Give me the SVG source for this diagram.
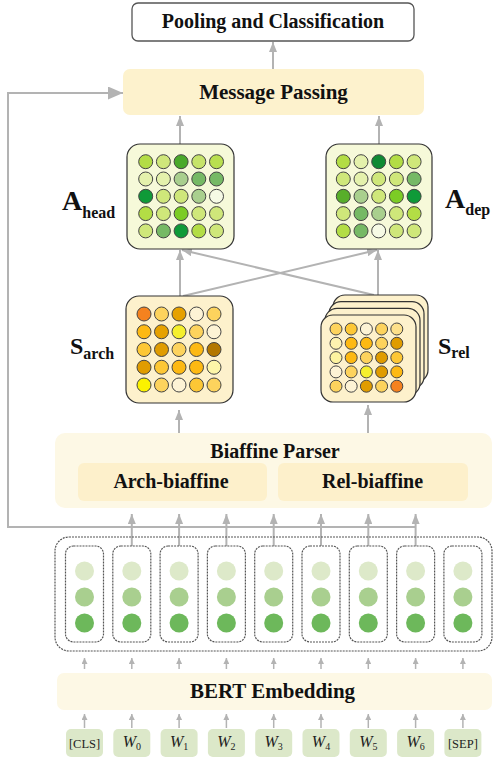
<svg xmlns="http://www.w3.org/2000/svg" width="493" height="760" viewBox="0 0 493 760">
<defs>
<style>
.lbl{font-family:"Liberation Serif","Times New Roman",serif;font-weight:bold;fill:#111;text-anchor:middle}
.tok{font-family:"Liberation Serif","Times New Roman",serif;fill:#222;text-anchor:middle}
.conn{stroke:#b3b3b3;stroke-width:2;fill:none}
.thin{stroke:#b3b3b3;stroke-width:1.5;fill:none}
.mat circle{stroke:#444;stroke-width:1}
.col circle{stroke:none}
.matA{fill:#f6f9d9;stroke:#333;stroke-width:1.2}
.matS{fill:#fdf1cc;stroke:#333;stroke-width:1.2}
.dash{fill:none;stroke:#555;stroke-width:1.2;stroke-dasharray:2 1}
.tk{fill:#dce8c9}
</style>
<marker id="ah" markerUnits="userSpaceOnUse" markerWidth="10" markerHeight="8" refX="10" refY="4" orient="auto"><path d="M0,0 L10,4 L0,8 z" fill="#b3b3b3"/></marker>
<marker id="ahBig" markerUnits="userSpaceOnUse" markerWidth="15" markerHeight="13" refX="15" refY="6.5" orient="auto"><path d="M0,0 L15,6.5 L0,13 z" fill="#b3b3b3"/></marker>
<marker id="ahS" markerUnits="userSpaceOnUse" markerWidth="6" markerHeight="6" refX="6" refY="3" orient="auto"><path d="M0,0 L6,3 L0,6 z" fill="#b3b3b3"/></marker>
</defs>
<rect width="493" height="760" fill="#fff"/>

<g id="connectors">
<path class="conn" d="M273,69 L273,42" marker-end="url(#ah)"/>
<path class="conn" d="M180,144 L180,116" marker-end="url(#ah)"/>
<path class="conn" d="M379,144 L379,116" marker-end="url(#ah)"/>
<path class="conn" d="M180,296 L180,250" marker-end="url(#ah)"/>
<path class="conn" d="M183,296 L377,250" marker-end="url(#ah)"/>
<path class="conn" d="M378,295 L378,250" marker-end="url(#ah)"/>
<path class="conn" d="M374,295 L182,250" marker-end="url(#ah)"/>
<path class="conn" d="M179,458 L179,410" marker-end="url(#ah)"/>
<path class="conn" d="M368,458 L368,405" marker-end="url(#ah)"/>
<path class="conn" d="M415.6,527 L8,527 L8,93 L123,93" marker-end="url(#ahBig)"/>
<path class="conn" d="M131.8,546 L131.8,514" marker-end="url(#ah)"/>
<path class="conn" d="M179.1,546 L179.1,514" marker-end="url(#ah)"/>
<path class="conn" d="M226.4,546 L226.4,514" marker-end="url(#ah)"/>
<path class="conn" d="M273.7,546 L273.7,514" marker-end="url(#ah)"/>
<path class="conn" d="M321,546 L321,514" marker-end="url(#ah)"/>
<path class="conn" d="M368.3,546 L368.3,514" marker-end="url(#ah)"/>
<path class="conn" d="M415.6,546 L415.6,514" marker-end="url(#ah)"/>
<g class="thin">
<path d="M84.5,669 L84.5,658" marker-end="url(#ahS)"/>
<path d="M131.8,669 L131.8,658" marker-end="url(#ahS)"/>
<path d="M179.1,669 L179.1,658" marker-end="url(#ahS)"/>
<path d="M226.4,669 L226.4,658" marker-end="url(#ahS)"/>
<path d="M273.7,669 L273.7,658" marker-end="url(#ahS)"/>
<path d="M321,669 L321,658" marker-end="url(#ahS)"/>
<path d="M368.3,669 L368.3,658" marker-end="url(#ahS)"/>
<path d="M415.6,669 L415.6,658" marker-end="url(#ahS)"/>
<path d="M462.9,669 L462.9,658" marker-end="url(#ahS)"/>
<path d="M84.5,728 L84.5,714" marker-end="url(#ahS)"/>
<path d="M131.8,728 L131.8,714" marker-end="url(#ahS)"/>
<path d="M179.1,728 L179.1,714" marker-end="url(#ahS)"/>
<path d="M226.4,728 L226.4,714" marker-end="url(#ahS)"/>
<path d="M273.7,728 L273.7,714" marker-end="url(#ahS)"/>
<path d="M321,728 L321,714" marker-end="url(#ahS)"/>
<path d="M368.3,728 L368.3,714" marker-end="url(#ahS)"/>
<path d="M415.6,728 L415.6,714" marker-end="url(#ahS)"/>
<path d="M462.9,728 L462.9,714" marker-end="url(#ahS)"/>
</g>
</g>

<g id="pooling">
<rect x="132" y="3" width="282" height="38" rx="6" fill="#fff" stroke="#555" stroke-width="1.3"/>
<text class="lbl" x="273" y="28" font-size="20">Pooling and Classification</text>
</g>

<g id="message-passing">
<rect x="123" y="69" width="301" height="46" rx="7" fill="#fdf2cd"/>
<text class="lbl" x="273.5" y="99" font-size="21">Message Passing</text>
</g>

<g id="a-head">
<rect class="matA" x="127" y="144" width="107" height="105" rx="13"/>
<g class="mat">
<circle cx="145.7" cy="161.7" r="7" fill="#b3dd45"/><circle cx="163.4" cy="161.7" r="7" fill="#cfe77a"/><circle cx="181.1" cy="161.7" r="7" fill="#4aa92a"/><circle cx="198.8" cy="161.7" r="7" fill="#c6e46a"/><circle cx="216.5" cy="161.7" r="7" fill="#b9df50"/>
<circle cx="145.7" cy="179" r="7" fill="#e4f1ac"/><circle cx="163.4" cy="179" r="7" fill="#e4f1ac"/><circle cx="181.1" cy="179" r="7" fill="#a9cf8e"/><circle cx="198.8" cy="179" r="7" fill="#76b965"/><circle cx="216.5" cy="179" r="7" fill="#76b965"/>
<circle cx="145.7" cy="196.3" r="7" fill="#0f9a38"/><circle cx="163.4" cy="196.3" r="7" fill="#cfe77a"/><circle cx="181.1" cy="196.3" r="7" fill="#cfe77a"/><circle cx="198.8" cy="196.3" r="7" fill="#a9cf8e"/><circle cx="216.5" cy="196.3" r="7" fill="#f6fae5"/>
<circle cx="145.7" cy="213.6" r="7" fill="#b3dd45"/><circle cx="163.4" cy="213.6" r="7" fill="#cfe77a"/><circle cx="181.1" cy="213.6" r="7" fill="#7ccc25"/><circle cx="198.8" cy="213.6" r="7" fill="#cfe77a"/><circle cx="216.5" cy="213.6" r="7" fill="#cfe77a"/>
<circle cx="145.7" cy="230.9" r="7" fill="#cfe77a"/><circle cx="163.4" cy="230.9" r="7" fill="#76b965"/><circle cx="181.1" cy="230.9" r="7" fill="#0f9a38"/><circle cx="198.8" cy="230.9" r="7" fill="#b3dd45"/><circle cx="216.5" cy="230.9" r="7" fill="#cfe77a"/>
</g>
<text class="lbl" x="62" y="210" font-size="28" style="text-anchor:start">A<tspan font-size="16" dy="8">head</tspan></text>
</g>

<g id="a-dep">
<rect class="matA" x="326" y="144" width="106" height="105" rx="13"/>
<g class="mat">
<circle cx="343.3" cy="161.7" r="7" fill="#b3dd45"/><circle cx="361" cy="161.7" r="7" fill="#e4f1ac"/><circle cx="378.7" cy="161.7" r="7" fill="#0f8a34"/><circle cx="396.4" cy="161.7" r="7" fill="#b3dd45"/><circle cx="414.1" cy="161.7" r="7" fill="#cfe77a"/>
<circle cx="343.3" cy="179" r="7" fill="#cfe77a"/><circle cx="361" cy="179" r="7" fill="#e4f1ac"/><circle cx="378.7" cy="179" r="7" fill="#cfe77a"/><circle cx="396.4" cy="179" r="7" fill="#cfe77a"/><circle cx="414.1" cy="179" r="7" fill="#76b965"/>
<circle cx="343.3" cy="196.3" r="7" fill="#58ae2a"/><circle cx="361" cy="196.3" r="7" fill="#a9cf8e"/><circle cx="378.7" cy="196.3" r="7" fill="#cfe77a"/><circle cx="396.4" cy="196.3" r="7" fill="#7ccc25"/><circle cx="414.1" cy="196.3" r="7" fill="#0f9a38"/>
<circle cx="343.3" cy="213.6" r="7" fill="#cfe77a"/><circle cx="361" cy="213.6" r="7" fill="#76b965"/><circle cx="378.7" cy="213.6" r="7" fill="#a9cf8e"/><circle cx="396.4" cy="213.6" r="7" fill="#cfe77a"/><circle cx="414.1" cy="213.6" r="7" fill="#b3dd45"/>
<circle cx="343.3" cy="230.9" r="7" fill="#b3dd45"/><circle cx="361" cy="230.9" r="7" fill="#76b965"/><circle cx="378.7" cy="230.9" r="7" fill="#f6fae5"/><circle cx="396.4" cy="230.9" r="7" fill="#cfe77a"/><circle cx="414.1" cy="230.9" r="7" fill="#cfe77a"/>
</g>
<text class="lbl" x="445" y="208" font-size="28" style="text-anchor:start">A<tspan font-size="16" dy="7">dep</tspan></text>
</g>

<g id="s-arch">
<rect class="matS" x="126" y="296" width="107" height="107" rx="13"/>
<g class="mat">
<circle cx="144" cy="314" r="7" fill="#f5821f"/><circle cx="161.5" cy="314" r="7" fill="#fdd35d"/><circle cx="179" cy="314" r="7" fill="#e6a100"/><circle cx="196.5" cy="314" r="7" fill="#fdf3d5"/><circle cx="214" cy="314" r="7" fill="#fdd35d"/>
<circle cx="144" cy="331.75" r="7" fill="#fdb913"/><circle cx="161.5" cy="331.75" r="7" fill="#e6a100"/><circle cx="179" cy="331.75" r="7" fill="#f5ef2d"/><circle cx="196.5" cy="331.75" r="7" fill="#fdd35d"/><circle cx="214" cy="331.75" r="7" fill="#fdf3d5"/>
<circle cx="144" cy="349.5" r="7" fill="#fdc735"/><circle cx="161.5" cy="349.5" r="7" fill="#e09c00"/><circle cx="179" cy="349.5" r="7" fill="#fdd35d"/><circle cx="196.5" cy="349.5" r="7" fill="#fdb913"/><circle cx="214" cy="349.5" r="7" fill="#b37700"/>
<circle cx="144" cy="367.25" r="7" fill="#e09c00"/><circle cx="161.5" cy="367.25" r="7" fill="#fdc735"/><circle cx="179" cy="367.25" r="7" fill="#fdb913"/><circle cx="196.5" cy="367.25" r="7" fill="#fdb913"/><circle cx="214" cy="367.25" r="7" fill="#fdf6a9"/>
<circle cx="144" cy="385" r="7" fill="#fbf200"/><circle cx="161.5" cy="385" r="7" fill="#fdd35d"/><circle cx="179" cy="385" r="7" fill="#fdf3d5"/><circle cx="196.5" cy="385" r="7" fill="#fdc735"/><circle cx="214" cy="385" r="7" fill="#fdd35d"/>
</g>
<text class="lbl" x="70" y="354" font-size="24" style="text-anchor:start">S<tspan font-size="16" dy="5">arch</tspan></text>
</g>

<g id="s-rel">
<rect class="matS" x="333" y="295" width="95" height="87" rx="12"/>
<rect class="matS" x="329" y="301.7" width="95" height="87" rx="12"/>
<rect class="matS" x="325" y="308.4" width="95" height="87" rx="12"/>
<rect class="matS" x="321" y="315" width="95" height="87" rx="12"/>
<g class="mat">
<circle cx="336" cy="329" r="6" fill="#fdd35d"/><circle cx="351.2" cy="329" r="6" fill="#fdc735"/><circle cx="366.4" cy="329" r="6" fill="#fdf3d5"/><circle cx="381.6" cy="329" r="6" fill="#fdd35d"/><circle cx="396.8" cy="329" r="6" fill="#fde08a"/>
<circle cx="336" cy="343.3" r="6" fill="#fdf2b0"/><circle cx="351.2" cy="343.3" r="6" fill="#fdb913"/><circle cx="366.4" cy="343.3" r="6" fill="#fdb913"/><circle cx="381.6" cy="343.3" r="6" fill="#fdd35d"/><circle cx="396.8" cy="343.3" r="6" fill="#e09c00"/>
<circle cx="336" cy="357.6" r="6" fill="#fdf3a0"/><circle cx="351.2" cy="357.6" r="6" fill="#fdb913"/><circle cx="366.4" cy="357.6" r="6" fill="#fdd35d"/><circle cx="381.6" cy="357.6" r="6" fill="#e09c00"/><circle cx="396.8" cy="357.6" r="6" fill="#fdc735"/>
<circle cx="336" cy="371.9" r="6" fill="#fdf3d5"/><circle cx="351.2" cy="371.9" r="6" fill="#fdd35d"/><circle cx="366.4" cy="371.9" r="6" fill="#f5ef2d"/><circle cx="381.6" cy="371.9" r="6" fill="#e09c00"/><circle cx="396.8" cy="371.9" r="6" fill="#fdb913"/>
<circle cx="336" cy="386.2" r="6" fill="#fdd35d"/><circle cx="351.2" cy="386.2" r="6" fill="#fdf3d5"/><circle cx="366.4" cy="386.2" r="6" fill="#e09c00"/><circle cx="381.6" cy="386.2" r="6" fill="#fdd35d"/><circle cx="396.8" cy="386.2" r="6" fill="#f5821f"/>
</g>
<text class="lbl" x="438" y="354" font-size="24" style="text-anchor:start">S<tspan font-size="16" dy="4">rel</tspan></text>
</g>

<g id="biaffine-parser">
<rect x="55" y="433" width="437" height="75" rx="10" fill="#fdf8e5"/>
<text class="lbl" x="275" y="458" font-size="20">Biaffine Parser</text>
</g>
<g id="arch-biaffine">
<rect x="78" y="463" width="189" height="38" rx="6" fill="#fdf0cb"/>
<text class="lbl" x="171" y="488" font-size="20">Arch-biaffine</text>
</g>
<g id="rel-biaffine">
<rect x="278" y="463" width="190" height="38" rx="6" fill="#fdf0cb"/>
<text class="lbl" x="372.5" y="488" font-size="20">Rel-biaffine</text>
</g>

<g id="bert-outputs">
<rect class="dash" x="55" y="537" width="437" height="114" rx="14"/>
<g class="col">
<rect class="dash" x="65.5" y="546" width="38" height="96" rx="8"/>
<circle cx="84.5" cy="571" r="9.5" fill="#dde9c9"/><circle cx="84.5" cy="597" r="9.5" fill="#a9cf8f"/><circle cx="84.5" cy="623" r="9.5" fill="#6db85b"/>
<rect class="dash" x="112.8" y="546" width="38" height="96" rx="8"/>
<circle cx="131.8" cy="571" r="9.5" fill="#dde9c9"/><circle cx="131.8" cy="597" r="9.5" fill="#a9cf8f"/><circle cx="131.8" cy="623" r="9.5" fill="#6db85b"/>
<rect class="dash" x="160.1" y="546" width="38" height="96" rx="8"/>
<circle cx="179.1" cy="571" r="9.5" fill="#dde9c9"/><circle cx="179.1" cy="597" r="9.5" fill="#a9cf8f"/><circle cx="179.1" cy="623" r="9.5" fill="#6db85b"/>
<rect class="dash" x="207.4" y="546" width="38" height="96" rx="8"/>
<circle cx="226.4" cy="571" r="9.5" fill="#dde9c9"/><circle cx="226.4" cy="597" r="9.5" fill="#a9cf8f"/><circle cx="226.4" cy="623" r="9.5" fill="#6db85b"/>
<rect class="dash" x="254.7" y="546" width="38" height="96" rx="8"/>
<circle cx="273.7" cy="571" r="9.5" fill="#dde9c9"/><circle cx="273.7" cy="597" r="9.5" fill="#a9cf8f"/><circle cx="273.7" cy="623" r="9.5" fill="#6db85b"/>
<rect class="dash" x="302" y="546" width="38" height="96" rx="8"/>
<circle cx="321" cy="571" r="9.5" fill="#dde9c9"/><circle cx="321" cy="597" r="9.5" fill="#a9cf8f"/><circle cx="321" cy="623" r="9.5" fill="#6db85b"/>
<rect class="dash" x="349.3" y="546" width="38" height="96" rx="8"/>
<circle cx="368.3" cy="571" r="9.5" fill="#dde9c9"/><circle cx="368.3" cy="597" r="9.5" fill="#a9cf8f"/><circle cx="368.3" cy="623" r="9.5" fill="#6db85b"/>
<rect class="dash" x="396.6" y="546" width="38" height="96" rx="8"/>
<circle cx="415.6" cy="571" r="9.5" fill="#dde9c9"/><circle cx="415.6" cy="597" r="9.5" fill="#a9cf8f"/><circle cx="415.6" cy="623" r="9.5" fill="#6db85b"/>
<rect class="dash" x="443.9" y="546" width="38" height="96" rx="8"/>
<circle cx="462.9" cy="571" r="9.5" fill="#dde9c9"/><circle cx="462.9" cy="597" r="9.5" fill="#a9cf8f"/><circle cx="462.9" cy="623" r="9.5" fill="#6db85b"/>
</g>
</g>

<g id="bert-embedding">
<rect x="57" y="673" width="435" height="37" rx="7" fill="#fdf8e5"/>
<text class="lbl" x="272.5" y="698" font-size="21">BERT Embedding</text>
</g>

<g id="tokens">
<rect class="tk" x="66" y="729" width="37" height="28" rx="5"/><text class="tok" x="84.5" y="747.5" font-size="12.5">[CLS]</text>
<rect class="tk" x="113.3" y="729" width="37" height="28" rx="5"/><text class="tok" x="131.8" y="747" font-size="16"><tspan font-style="italic">W</tspan><tspan font-size="10" dy="3">0</tspan></text>
<rect class="tk" x="160.6" y="729" width="37" height="28" rx="5"/><text class="tok" x="179.1" y="747" font-size="16"><tspan font-style="italic">W</tspan><tspan font-size="10" dy="3">1</tspan></text>
<rect class="tk" x="207.9" y="729" width="37" height="28" rx="5"/><text class="tok" x="226.4" y="747" font-size="16"><tspan font-style="italic">W</tspan><tspan font-size="10" dy="3">2</tspan></text>
<rect class="tk" x="255.2" y="729" width="37" height="28" rx="5"/><text class="tok" x="273.7" y="747" font-size="16"><tspan font-style="italic">W</tspan><tspan font-size="10" dy="3">3</tspan></text>
<rect class="tk" x="302.5" y="729" width="37" height="28" rx="5"/><text class="tok" x="321" y="747" font-size="16"><tspan font-style="italic">W</tspan><tspan font-size="10" dy="3">4</tspan></text>
<rect class="tk" x="349.8" y="729" width="37" height="28" rx="5"/><text class="tok" x="368.3" y="747" font-size="16"><tspan font-style="italic">W</tspan><tspan font-size="10" dy="3">5</tspan></text>
<rect class="tk" x="397.1" y="729" width="37" height="28" rx="5"/><text class="tok" x="415.6" y="747" font-size="16"><tspan font-style="italic">W</tspan><tspan font-size="10" dy="3">6</tspan></text>
<rect class="tk" x="444.4" y="729" width="37" height="28" rx="5"/><text class="tok" x="462.9" y="747.5" font-size="12.5">[SEP]</text>
</g>
</svg>
